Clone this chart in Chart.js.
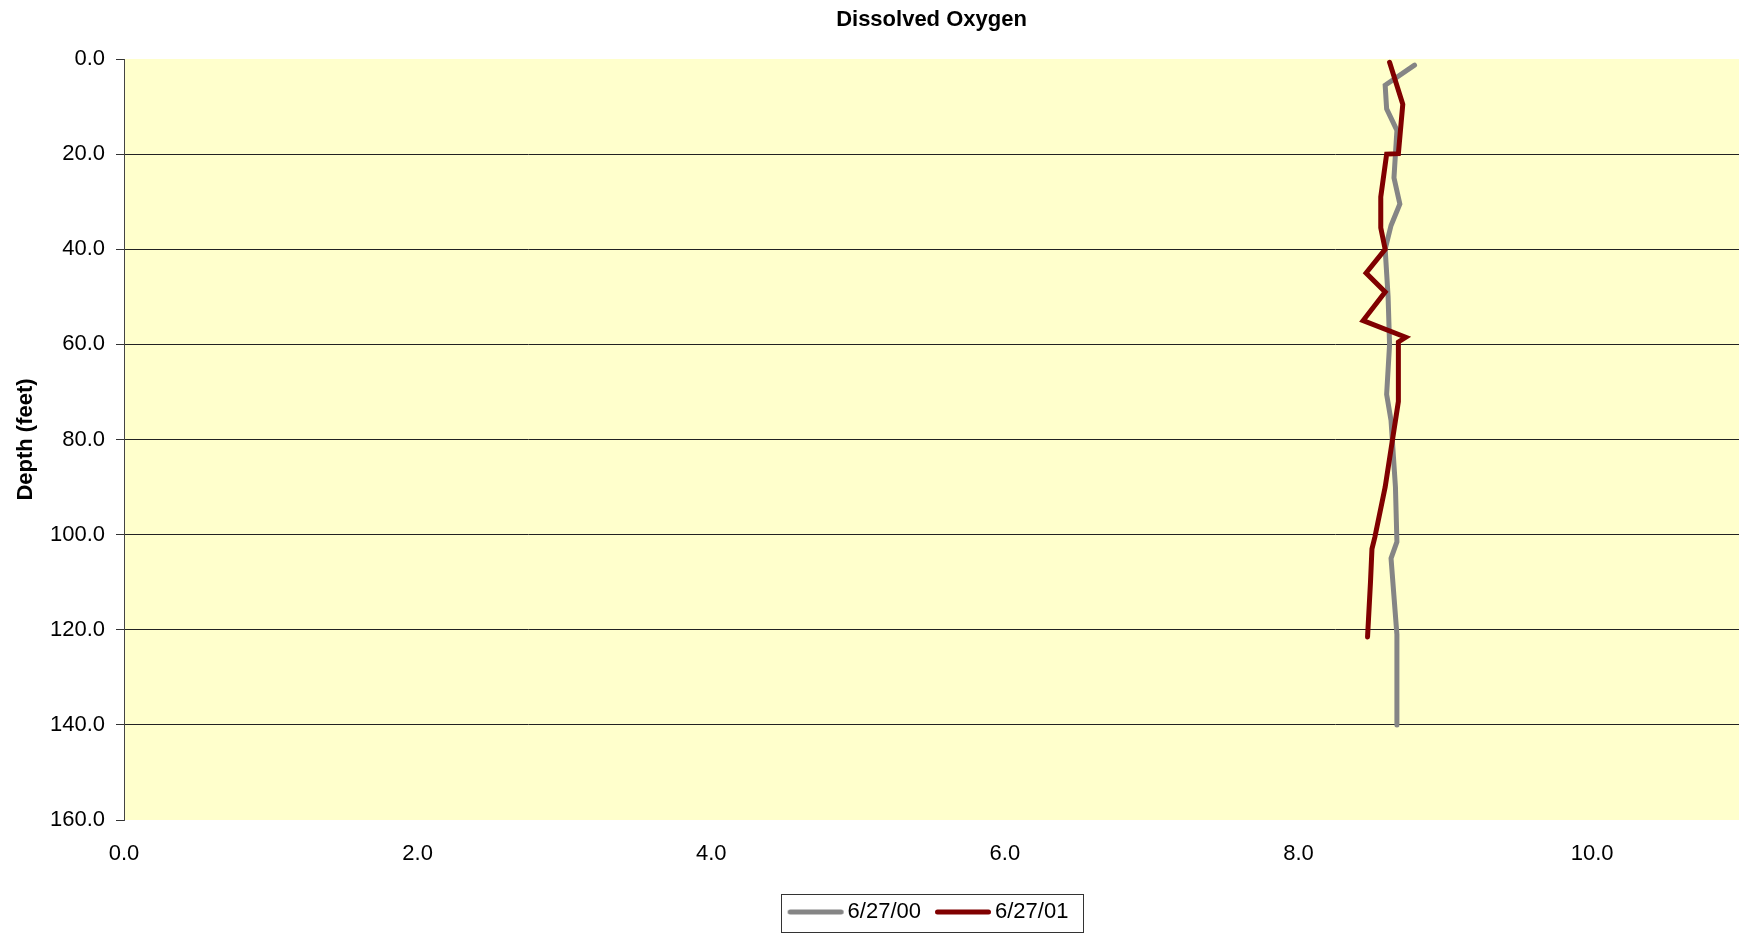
<!DOCTYPE html>
<html>
<head>
<meta charset="utf-8">
<title>Dissolved Oxygen</title>
<script src="https://cdn.jsdelivr.net/npm/chart.js@4.4.1/dist/chart.umd.min.js"></script>
<style>
  html, body { margin: 0; padding: 0; background: #ffffff; }
  #wrap { width: 1746px; height: 933px; }
</style>
</head>
<body>
<div id="wrap"><canvas id="chart" width="1746" height="933"></canvas></div>
<script>
// Dissolved oxygen (mg/L) against depth (feet), two sampling dates
const seriesNames = ['6/27/00', '6/27/01'];

const depth2000 = [1.3, 5.5, 10.5, 15, 25, 30.5, 35, 40, 50, 60, 70.5, 76, 90, 101.5, 105, 121, 140];
const oxygen2000 = [8.79, 8.59, 8.60, 8.67, 8.65, 8.69, 8.63, 8.59, 8.61, 8.62, 8.60, 8.63, 8.66, 8.67, 8.63, 8.67, 8.67];

const depth2001 = [0.7, 9.5, 19.9, 20, 29, 35.5, 40, 45, 49, 55, 58.5, 59.5, 72, 90, 100.5, 103, 110, 121.5];
const oxygen2001 = [8.62, 8.71, 8.68, 8.60, 8.56, 8.56, 8.59, 8.46, 8.59, 8.44, 8.73, 8.68, 8.68, 8.59, 8.52, 8.50, 8.49, 8.47];

const xTicks = [0, 2, 4, 6, 8, 10];
const yTicks = [0, 20, 40, 60, 80, 100, 120, 140, 160];

const colors = ['#858585', '#800000'];

function toPoints(xs, ys) {
  return xs.map((v, i) => ({ x: v, y: ys[i] }));
}

// short round-capped stroke used as the legend sample
function legendStroke(color) {
  const c = document.createElement('canvas');
  c.width = 58; c.height = 8;
  const g = c.getContext('2d');
  g.strokeStyle = color;
  g.lineWidth = 5;
  g.lineCap = 'round';
  g.beginPath();
  g.moveTo(3.5, 4);
  g.lineTo(54.5, 4);
  g.stroke();
  return c;
}

const plotBackground = {
  id: 'plotBackground',
  beforeDraw(chart) {
    const a = chart.chartArea, ctx = chart.ctx;
    ctx.save();
    ctx.fillStyle = '#FFFFCC';
    ctx.fillRect(a.left, a.top, a.right - a.left, a.bottom - a.top);
    ctx.restore();
  }
};

const legendFrame = {
  id: 'legendFrame',
  afterDraw(chart) {
    const boxes = chart.legend && chart.legend.legendHitBoxes;
    if (!boxes || !boxes.length) return;
    const first = boxes[0], last = boxes[boxes.length - 1];
    const ctx = chart.ctx;
    const left = Math.round(first.left - 14) + 0.5;
    const right = Math.round(last.left + last.width + 15) + 0.5;
    const top = Math.round(first.top - 7) + 0.5;
    const bottom = Math.round(first.top + first.height + 9) + 0.5;
    ctx.save();
    ctx.strokeStyle = '#333333';
    ctx.lineWidth = 1;
    ctx.strokeRect(left, top, right - left, bottom - top);
    ctx.restore();
  }
};

Chart.defaults.font.family = "'Liberation Sans', Arial, sans-serif";
Chart.defaults.color = '#000000';

new Chart(document.getElementById('chart'), {
  type: 'scatter',
  data: {
    datasets: [
      {
        label: seriesNames[0],
        data: toPoints(oxygen2000, depth2000),
        showLine: true,
        borderColor: colors[0],
        backgroundColor: colors[0],
        borderWidth: 5,
        borderCapStyle: 'round',
        pointRadius: 0,
        pointHoverRadius: 0,
        tension: 0,
        order: 2
      },
      {
        label: seriesNames[1],
        data: toPoints(oxygen2001, depth2001),
        showLine: true,
        borderColor: colors[1],
        backgroundColor: colors[1],
        borderWidth: 5,
        borderCapStyle: 'round',
        pointRadius: 0,
        pointHoverRadius: 0,
        tension: 0,
        order: 1
      }
    ]
  },
  options: {
    responsive: false,
    animation: false,
    devicePixelRatio: 1,
    layout: { padding: { left: 7, right: 7, top: 0, bottom: 0 } },
    scales: {
      x: {
        type: 'linear',
        position: 'bottom',
        min: 0,
        max: 11,
        afterBuildTicks(scale) { scale.ticks = xTicks.map(v => ({ value: v })); },
        afterFit(scale) { scale.height = 60; },
        grid: { display: false, drawTicks: false },
        border: { display: false },
        ticks: {
          padding: 21,
          maxRotation: 0,
          font: { size: 22 },
          color: '#000',
          callback: v => Number(v).toFixed(1)
        }
      },
      y: {
        type: 'linear',
        position: 'left',
        reverse: true,
        min: 0,
        max: 160,
        afterBuildTicks(scale) { scale.ticks = yTicks.map(v => ({ value: v })); },
        afterFit(scale) { scale.width = 117; },
        grid: {
          color: ctx => (ctx.tick && (ctx.tick.value === 0 || ctx.tick.value === 160)) ? 'rgba(0,0,0,0)' : '#222222',
          tickColor: '#333333',
          tickLength: 8,
          lineWidth: 1
        },
        border: { display: true, color: '#444444', width: 1 },
        ticks: {
          padding: 11,
          font: { size: 22 },
          color: '#000',
          callback: v => Number(v).toFixed(1)
        },
        title: {
          display: true,
          text: 'Depth (feet)',
          font: { size: 22, weight: 'bold' },
          color: '#000',
          padding: { top: 6, bottom: 13 }
        }
      }
    },
    plugins: {
      title: {
        display: true,
        text: 'Dissolved Oxygen',
        fullSize: false,
        font: { size: 22, weight: 'bold' },
        color: '#000',
        padding: { top: 7, bottom: 25.6 }
      },
      legend: {
        display: true,
        position: 'bottom',
        fullSize: false,
        labels: {
          usePointStyle: true,
          pointStyleWidth: 42,
          padding: 21,
          font: { size: 22 },
          color: '#000',
          sort: (a, b) => a.datasetIndex - b.datasetIndex,
          generateLabels(chart) {
            const items = Chart.defaults.plugins.legend.labels.generateLabels(chart);
            items.forEach(it => {
              it.pointStyle = legendStroke(colors[it.datasetIndex]);
            });
            return items;
          }
        }
      },
      tooltip: { enabled: false }
    }
  },
  plugins: [plotBackground, legendFrame]
});
</script>
</body>
</html>
